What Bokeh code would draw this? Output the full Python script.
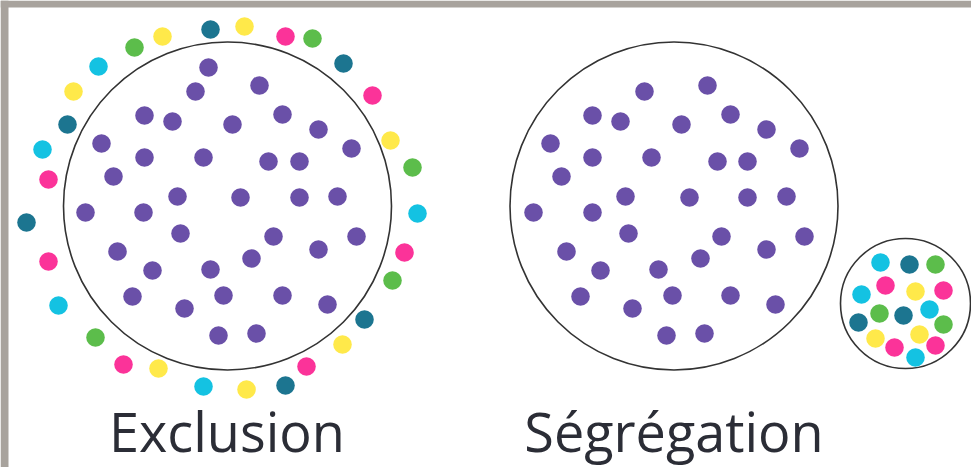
from bokeh.plotting import figure
from bokeh.models import Range1d, ColumnDataSource
from bokeh.core.properties import value
from bokeh.embed import file_html
from bokeh.resources import INLINE

# ---- palette ----
PURPLE = "#6A50A8"
COLORS = {"teal": "#1C7590", "yellow": "#FFE94A", "pink": "#FB3399",
          "green": "#5CBD4B", "cyan": "#14C2E2"}

# ---- Exclusion: big circle, inner purple dots, outer coloured dots ----
excl_circle = (227, 205.5, 164)
excl_in_x = [208, 195, 259, 144, 172, 232, 282, 318, 101, 144, 203, 268, 299, 351, 113, 177, 240, 299,
             337, 85, 143, 180, 273, 356, 117, 318, 251, 152, 210, 132, 223, 282, 184, 327, 218, 256]
excl_in_y = [67, 91, 85, 115, 121, 124, 114, 129, 143, 157, 157, 161, 161, 148, 176, 196, 197, 197,
             196, 212, 212, 233, 236, 236, 251, 249, 258, 270, 269, 296, 295, 295, 308, 304, 335, 333]
excl_out_x = [210, 244, 285, 312, 162, 134, 98, 343, 73, 372, 67, 390, 42, 412, 48, 417, 26, 404,
              48, 392, 58, 364, 95, 342, 123, 158, 306, 203, 246, 285]
excl_out_y = [29, 26, 36, 38, 36, 47, 66, 63, 91, 95, 124, 140, 149, 167, 179, 213, 222, 252,
              261, 280, 305, 319, 337, 344, 364, 368, 366, 386, 389, 385]
excl_out_c = ["teal", "yellow", "pink", "green", "yellow", "green", "cyan", "teal", "yellow", "pink",
              "teal", "yellow", "cyan", "green", "pink", "cyan", "teal", "pink", "pink", "green",
              "cyan", "teal", "green", "yellow", "pink", "yellow", "pink", "cyan", "yellow", "teal"]

# ---- Ségrégation: big circle with purple dots + small circle with coloured dots ----
seg_circle = (673.5, 205.5, 164)
seg_in_x = [644, 707, 592, 620, 681, 730, 766, 550, 592, 651, 717, 747, 799, 561, 625, 689, 747, 786,
            533, 592, 628, 721, 804, 566, 766, 700, 600, 658, 580, 672, 730, 632, 775, 666, 704]
seg_in_y = [91, 85, 115, 121, 124, 114, 129, 143, 157, 157, 161, 161, 148, 176, 196, 197, 197, 196,
            212, 212, 233, 236, 236, 251, 249, 258, 270, 269, 296, 295, 295, 308, 304, 335, 333]
small_circle = (905, 303, 65)
small_x = [880, 909, 935, 885, 915, 943, 861, 879, 903, 929, 858, 943, 875, 919, 894, 935, 915]
small_y = [262, 264, 264, 285, 291, 290, 294, 313, 315, 309, 322, 324, 338, 334, 347, 345, 357]
small_c = ["cyan", "teal", "green", "pink", "yellow", "pink", "cyan", "green", "teal", "cyan",
           "teal", "green", "yellow", "yellow", "pink", "pink", "cyan"]

labels = ["Exclusion", "Ségrégation"]
label_x = [226.5, 673.5]
label_y = [430, 430]

W, H = 971, 467
DOT_R = 9.3

p = figure(width=W, height=H, output_backend="svg", toolbar_location=None,
           x_range=Range1d(0, W), y_range=Range1d(H, 0),
           min_border=0, x_axis_type=None, y_axis_type=None)
p.grid.visible = False
p.outline_line_color = None
p.background_fill_color = "white"
p.border_fill_color = "white"

# screenshot frame (top and left grey bands)
p.quad(left=[0, 0], right=[W, 8], top=[0, 0], bottom=[7, H], fill_color="#A8A39D", line_color=None)

# outline circles
for cx, cy, r in [excl_circle, seg_circle, small_circle]:
    p.circle(x=[cx], y=[cy], radius=r, fill_color=None, line_color="#333333", line_width=1.6)

# purple dots
p.circle(x=excl_in_x, y=excl_in_y, radius=DOT_R, fill_color=PURPLE, line_color=None)
p.circle(x=seg_in_x, y=seg_in_y, radius=DOT_R, fill_color=PURPLE, line_color=None)

# coloured dots
src_out = ColumnDataSource(dict(x=excl_out_x, y=excl_out_y, c=[COLORS[k] for k in excl_out_c]))
p.circle(x="x", y="y", radius=DOT_R, fill_color="c", line_color=None, source=src_out)
src_small = ColumnDataSource(dict(x=small_x, y=small_y, c=[COLORS[k] for k in small_c]))
p.circle(x="x", y="y", radius=DOT_R, fill_color="c", line_color=None, source=src_small)

# labels
p.text(x=label_x, y=label_y, text=labels, text_align="center", text_baseline="alphabetic",
       text_font=value("Open Sans"), text_font_size="54px", text_color="#2B2D36")

open("out.html", "w").write(file_html(p, INLINE))
